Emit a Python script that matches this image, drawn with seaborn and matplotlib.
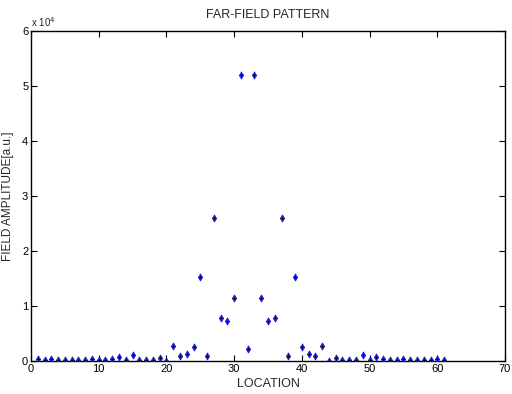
import numpy as np
import pandas as pd
import matplotlib
matplotlib.use("Agg")
import matplotlib.pyplot as plt
import seaborn as sns

location = list(range(1, 62))
amplitude = [
    300, 200, 300, 200, 200, 200, 200, 200, 300, 200,
    200, 300, 800, 100, 1100, 200, 100, 100, 600, 50,
    2700, 1000, 1200, 2600, 15200, 1000, 26000, 7900, 7200, 11500,
    52000, 2200, 52000, 11500, 7200, 7900, 26000, 1000, 15200, 2600,
    1200, 1000, 2700, 50, 600, 100, 100, 200, 1100, 100,
    800, 300, 200, 200, 300, 200, 200, 200, 200, 300, 200,
]
df = pd.DataFrame({"LOCATION": location, "AMP": amplitude})

sns.set_theme(style="white")
plt.rcParams['font.family'] = ['Liberation Sans Narrow', 'Liberation Sans', 'DejaVu Sans']

fig = plt.figure(figsize=(5.12, 3.94), dpi=100)
ax = fig.add_axes([31/512, 1 - 361/394, (505-31)/512, (361-31)/394])

sns.scatterplot(data=df, x="LOCATION", y="AMP", ax=ax, marker="d", s=14,
                color="#2f2fff", edgecolor="#0000ee", linewidth=0.4, zorder=3)
ax.scatter(df["LOCATION"], df["AMP"], marker="+", s=5, color="black", linewidth=0.5, zorder=4)

ax.set_xlim(0, 70)
ax.set_ylim(0, 60000)
ax.set_xticks(range(0, 71, 10))
ax.set_yticks(range(0, 60001, 10000))
ax.set_yticklabels([str(i) for i in range(7)])
ax.tick_params(direction="in", length=4, width=0.8, labelsize=8, top=True, right=True,
               bottom=True, left=True, pad=2, colors="black")
for sp in ax.spines.values():
    sp.set_color("black")
    sp.set_linewidth(1.0)
ax.text(0, 1.005, r"x 10$^{4}$", transform=ax.transAxes, fontsize=7, ha="left", va="bottom")

ax.set_title("FAR-FIELD PATTERN", fontsize=9, pad=9)
ax.set_xlabel("LOCATION", fontsize=9, labelpad=3)
ax.set_ylabel("FIELD AMPLITUDE[a.u.]", fontsize=8.5, labelpad=6,
              family=['Liberation Sans', 'DejaVu Sans'])

fig.savefig("out.png", dpi=100)
